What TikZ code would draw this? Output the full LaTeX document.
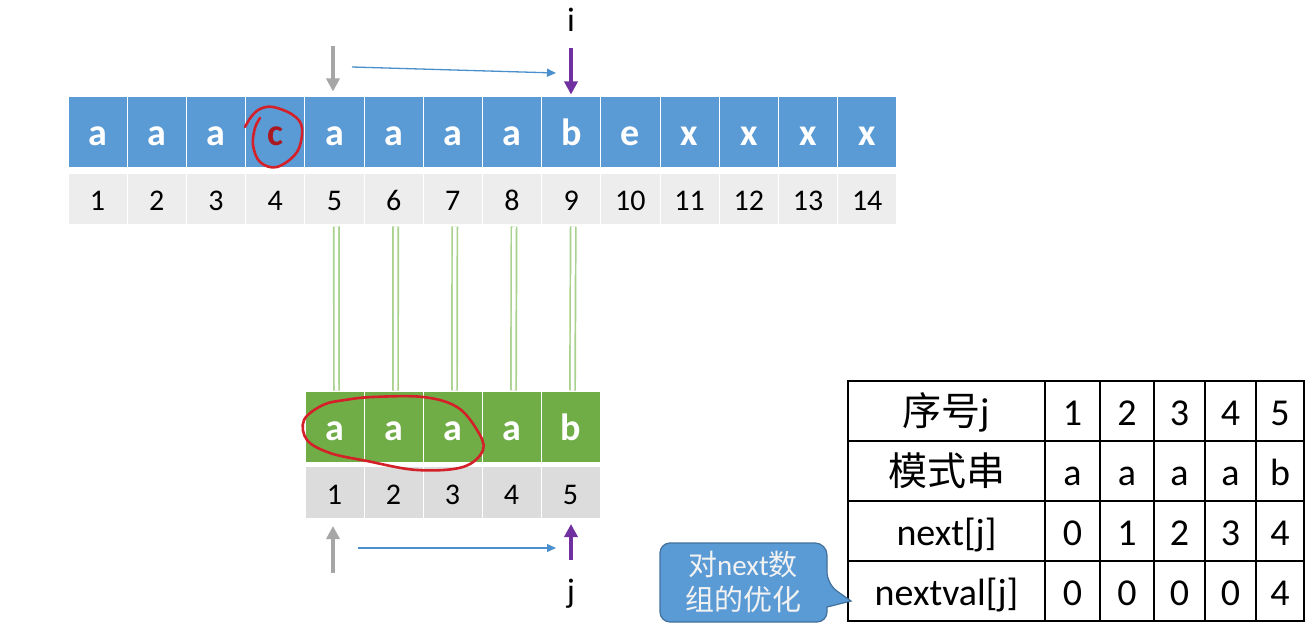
\documentclass[tikz,border=0pt]{standalone}
\usepackage{fontspec}
\setmainfont{Carlito}
\newfontfamily\cjk{Noto Sans CJK SC}
\usetikzlibrary{arrows.meta,calc}
\definecolor{cellblue}{HTML}{5B9BD5}
\definecolor{cellgreen}{HTML}{70AD47}
\definecolor{graytop}{HTML}{EDEDED}
\definecolor{graybot}{HTML}{DCDCDC}
\definecolor{lgreen}{HTML}{A9D18E}
\definecolor{penred}{HTML}{D42028}
\definecolor{arrgray}{HTML}{A6A6A6}
\definecolor{arrpurple}{HTML}{7030A0}
\definecolor{arrblue}{HTML}{4A90CC}
\definecolor{callborder}{HTML}{41719C}
\tikzset{
  cellbase/.style={inner sep=0pt, draw=white, line width=1pt, text height=27pt, text depth=0pt},
  bcell/.style={cellbase, minimum width=59.2pt, minimum height=71pt, fill=cellblue, text=white, font=\fontsize{38}{38}\selectfont\bfseries},
  gcell/.style={cellbase, minimum width=59.2pt, minimum height=51pt, fill=graytop, text=black, text height=24pt, font=\fontsize{30}{30}\selectfont},
  pcell/.style={cellbase, minimum width=59pt, minimum height=71pt, fill=cellgreen, text=white, font=\fontsize{38}{38}\selectfont\bfseries},
  qcell/.style={cellbase, minimum width=59pt, minimum height=52pt, fill=graybot, text=black, text height=24pt, font=\fontsize{30}{30}\selectfont},
  tcell/.style={draw=black, line width=1.3pt, inner sep=0pt, minimum height=60pt, text height=28pt, text depth=0pt, font=\fontsize{38}{38}\selectfont},
  dline/.style={draw=lgreen, line width=1.7pt, double=white, double distance=3.5pt},
  fatgray/.style={draw=arrgray, line width=4.2pt, -{Triangle[width=13pt,length=13pt]}},
  fatpurple/.style={draw=arrpurple, line width=4.2pt, -{Triangle[width=13pt,length=13pt]}},
  thinblue/.style={draw=arrblue, line width=1.3pt, -{Triangle[width=8pt,length=9pt]}},
  pen/.style={draw=penred, line width=2.6pt, line cap=round, line join=round},
  ptr/.style={font=\fontsize{34}{34}\selectfont, inner sep=0pt}
}
\begin{document}
\begin{tikzpicture}[x=1pt,y=-1pt]
\useasboundingbox (0,0) rectangle (1315,642);
\fill[white] (0,0) rectangle (1315,642);
% top string
\foreach \k/\ch in {1/a,2/a,3/a,4/c,5/a,6/a,7/a,8/a,9/b,10/e,11/x,12/x,13/x,14/x}{
  \node[bcell] (t\k) at ({68+59.2*(\k-0.5)},131.5) {\ch};
  \node[gcell] (n\k) at ({68+59.2*(\k-0.5)},198.5) {\k};
}
\node[bcell, text=penred!80!black] at (t4) {c};
% pattern
\foreach \k/\ch in {1/a,2/a,3/a,4/a,5/b}{
  \node[pcell] (p\k) at ({305+59*(\k-0.5)},426.5) {\ch};
  \node[qcell] (q\k) at ({305+59*(\k-0.5)},492.5) {\k};
}
% green connectors
\foreach \a/\b in {5/1,6/2,7/3,8/4,9/5}{
  \draw[dline] ($(n\a.south)+(2,2)$) -- ($(p\b.north)+(2,0)$);
}
% top pointers
\node[ptr] (ilab) at (571,20) {i};
\coordinate (gtop) at (333,46);
\coordinate (ptop) at (571,48);
\coordinate (bt1) at (352,67);
\coordinate (bt2) at (556,73);
\draw[fatgray, shorten >=4pt] (gtop) -- (gtop |- t5.north);
\draw[fatpurple, shorten >=1pt] (ptop) -- (ptop |- t9.north);
\draw[thinblue] (bt1) -- (bt2);
% bottom pointers
\node[ptr] (jlab) at (571,594) {j};
\coordinate (gbot) at (333,573);
\coordinate (pbot) at (571,560);
\coordinate (bb1) at (358,548);
\coordinate (bb2) at (556,548);
\draw[fatgray, shorten >=7pt] (gbot) -- (gbot |- q1.south);
\draw[fatpurple, shorten >=5pt] (pbot) -- (pbot |- q5.south);
\draw[thinblue] (bb1) -- (bb2);
% red pen marks
\draw[pen] plot[smooth, tension=0.6] coordinates {(245,127) (251,117) (260,109) (273,107) (293,115) (302,128) (297,152) (277,167) (260,162) (253,145) (255,128) (260,118)};
\draw[pen] plot[smooth cycle, tension=0.6] coordinates {(345,400) (323,405) (304,420) (307,440) (330,453) (367,461) (417,470) (463,467) (483,450) (477,430) (457,407) (423,397) (373,397)};
% table
\node[tcell, minimum width=197pt, font=\fontsize{39}{39}\selectfont\cjk] (h1) at (946.5,411) {序号{\rmfamily j}};
\node[tcell, minimum width=197pt, font=\fontsize{39}{39}\selectfont\cjk] (h2) at (946.5,471) {模式串};
\node[tcell, minimum width=197pt] (h3) at (946.5,531) {next[j]};
\node[tcell, minimum width=197pt] (h4) at (946.5,591) {nextval[j]};
\foreach \c/\xa/\xb/\v/\s/\n/\w in {1/1045/1100/1/a/0/0, 2/1100/1154/2/a/1/0, 3/1154/1205/3/a/2/0, 4/1205/1256/4/a/3/0, 5/1256/1304/5/b/4/4}{
  \node[tcell, minimum width={\xb-\xa}] (c1\c) at ({(\xa+\xb)/2},411) {\v};
  \node[tcell, minimum width={\xb-\xa}] (c2\c) at ({(\xa+\xb)/2},471) {\s};
  \node[tcell, minimum width={\xb-\xa}] (c3\c) at ({(\xa+\xb)/2},531) {\n};
  \node[tcell, minimum width={\xb-\xa}] (c4\c) at ({(\xa+\xb)/2},591) {\w};
}
% callout
\draw[fill=cellblue, draw=callborder, line width=1.2pt] (743,543) [rounded corners=12pt] -- (827,543) -- (827,584) [sharp corners] -- (851,601) -- (827,607) [rounded corners=10pt] -- (827,622) -- (660,622) -- (660,543) -- cycle;
\node[inner sep=0pt, align=center, text=white!95!black, font=\fontsize{29}{35}\selectfont] (call) at (743,582) {{\cjk 对}next{\cjk 数}\\{\cjk 组的优化}};
\end{tikzpicture}
\end{document}
